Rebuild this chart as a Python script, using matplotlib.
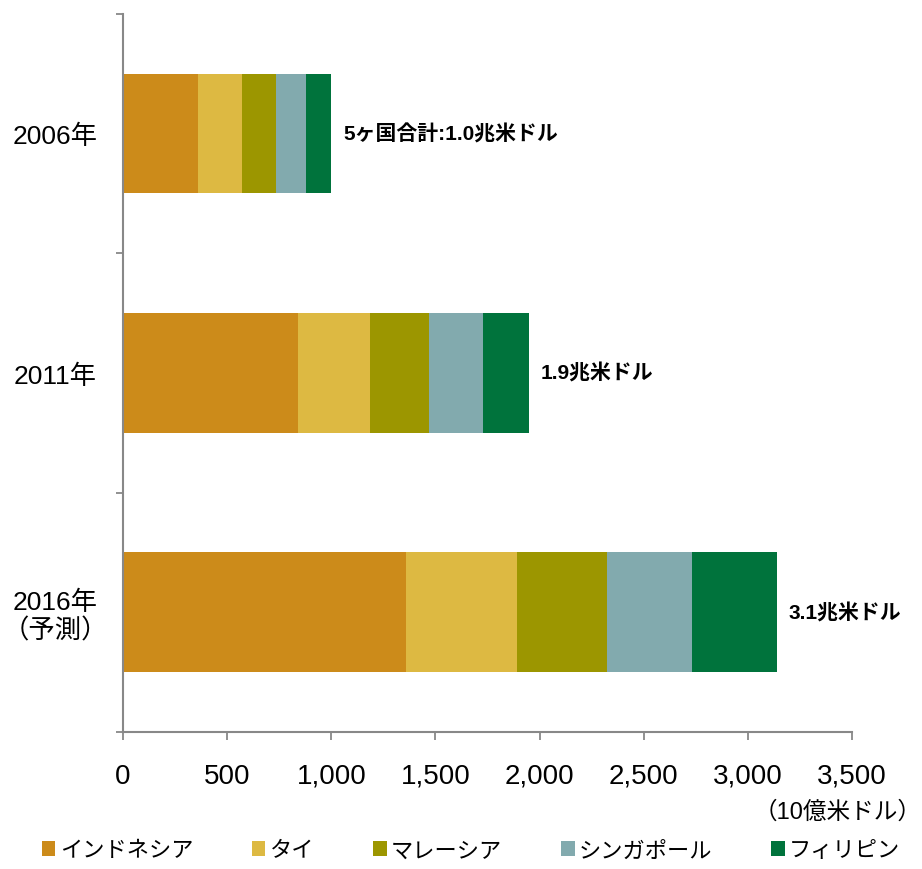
import matplotlib.pyplot as plt
import numpy as np
from matplotlib.patches import Patch

plt.rcParams["font.family"] = ["Liberation Sans", "Noto Sans CJK JP", "DejaVu Sans"]

# GDP by country, billions of USD
years = ["2006年", "2011年", "2016年\n（予測）"]
countries = ["インドネシア", "タイ", "マレーシア", "シンガポール", "フィリピン"]
indonesia = [362, 840, 1359]
thailand = [209, 346, 531]
malaysia = [163, 284, 436]
singapore = [147, 260, 406]
philippines = [120, 218, 409]
colors = ["#CC8B1A", "#DDB942", "#9C9600", "#82AAAE", "#00733C"]
x_ticks = [0, 500, 1000, 1500, 2000, 2500, 3000, 3500]

series = [indonesia, thailand, malaysia, singapore, philippines]
totals = np.sum(series, axis=0)

cjk = ["Noto Sans CJK JP", "DejaVu Sans"]
mixed = ["Liberation Sans", "Noto Sans CJK JP", "DejaVu Sans"]

fig = plt.figure(figsize=(9.22, 8.7), dpi=100)
ax = fig.add_axes([0.1334, 0.1575, 0.7906, 0.8253])

y = np.arange(len(years))
left = np.zeros(len(years))
for vals, color in zip(series, colors):
    ax.barh(y, vals, left=left, height=0.5, color=color, edgecolor="none")
    left += vals

# total labels to the right of each bar
for i, total in enumerate(totals):
    txt = f"{total / 1000:.1f}兆米ドル"
    if i == 0:
        txt = "5ヶ国合計:" + txt
    ax.text(total + 55, i, txt, va="center", ha="left",
            fontsize=15, fontweight="bold", color="black", family=mixed)

ax.set_xlim(0, 3500)
ax.set_ylim(2.5, -0.5)
ax.set_xticks(x_ticks)
ax.set_xticklabels([f"{v:,}" for v in x_ticks], fontsize=20)
ax.set_yticks(y)
ax.set_yticklabels(years, fontsize=19, linespacing=1.15, ha="center")
ax.set_yticks([-0.5, 0.5, 1.5, 2.5], minor=True)

ax.tick_params(axis="y", which="major", length=0, pad=49)
ax.tick_params(axis="y", which="minor", length=5, width=1.3, color="#888888", direction="out")
ax.tick_params(axis="x", length=6, width=1.3, color="#888888", direction="out", pad=16)

for side in ["top", "right"]:
    ax.spines[side].set_visible(False)
for side in ["left", "bottom"]:
    ax.spines[side].set_color("#888888")
    ax.spines[side].set_linewidth(1.5)

fig.text(1.0, 0.066, "（10億米ドル）", ha="right", va="center", fontsize=17,
         family=mixed)

handles = [Patch(facecolor=c, edgecolor="none") for c in colors]
fig.legend(handles, countries, loc="center", bbox_to_anchor=(0.511, 0.022),
           ncol=5, frameon=False, handlelength=0.6, handleheight=0.6,
           handletextpad=0.2, columnspacing=2.65,
           prop={"family": cjk, "size": 16})

fig.savefig("out.png", dpi=100)
